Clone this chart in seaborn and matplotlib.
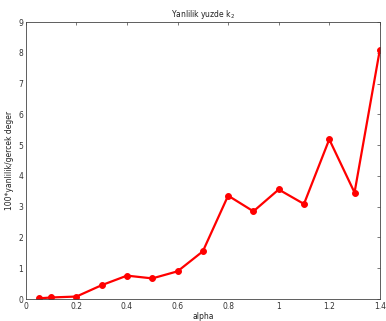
import pandas as pd
import matplotlib
matplotlib.use('Agg')
import matplotlib.pyplot as plt
import seaborn as sns

alpha = [0.05, 0.1, 0.2, 0.3, 0.4, 0.5, 0.6, 0.7, 0.8, 0.9, 1.0, 1.1, 1.2, 1.3, 1.4]
yanlilik = [0.02, 0.05, 0.08, 0.45, 0.76, 0.67, 0.9, 1.55, 3.36, 2.85, 3.56, 3.09, 5.19, 3.46, 8.1]

df = pd.DataFrame({'alpha': alpha, 'deger': yanlilik})

sns.set_style('white')
plt.rcParams['font.family'] = ['DejaVu Sans']
plt.rcParams['xtick.direction'] = 'in'
plt.rcParams['ytick.direction'] = 'in'

fig = plt.figure(figsize=(3.86, 3.21), dpi=100)
ax = fig.add_axes([0.067, 0.0685, 0.917, 0.8625])

sns.lineplot(data=df, x='alpha', y='deger', ax=ax, color='red', linewidth=1.6,
             marker='o', markersize=4.2, markeredgecolor='red')

ax.set_xlim(0, 1.4)
ax.set_ylim(0, 9)
ax.set_xticks([0, 0.2, 0.4, 0.6, 0.8, 1, 1.2, 1.4])
ax.set_xticklabels(['0', '0.2', '0.4', '0.6', '0.8', '1', '1.2', '1.4'])
ax.set_yticks(range(0, 10))
ax.tick_params(labelsize=5.5, length=2.5, width=0.5, color='#444444',
               labelcolor='#333333', top=True, right=True, pad=2)
for s in ax.spines.values():
    s.set_linewidth(0.6)
    s.set_color('#444444')
ax.set_title('Yanlilik yuzde k$_2$', fontsize=5.5, pad=4, color='#222222')
ax.set_xlabel('alpha', fontsize=5.5, labelpad=1, color='#222222')
ax.set_ylabel('100*yanlilik/gercek deger', fontsize=5.5, labelpad=3, color='#222222')

fig.savefig('out.png', dpi=100)
